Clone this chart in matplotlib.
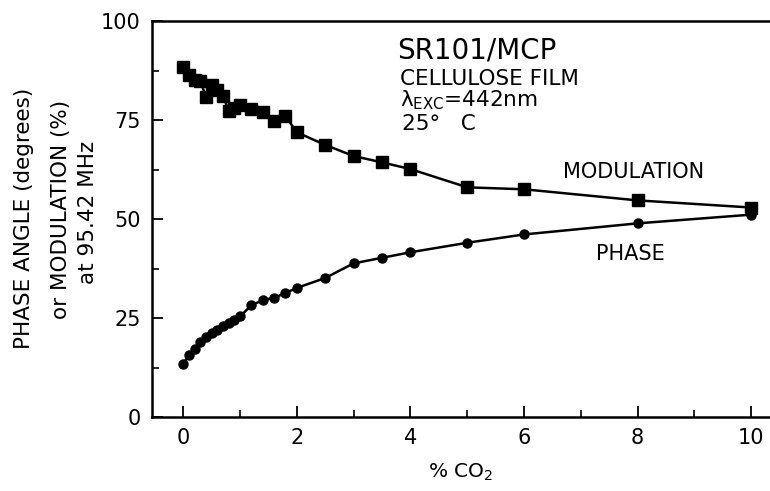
import matplotlib
matplotlib.use("Agg")
import matplotlib.pyplot as plt
from matplotlib.ticker import MultipleLocator

plt.rcParams['font.family'] = ['DejaVu Sans']
plt.rcParams['mathtext.default'] = 'regular'

# Data (% CO2 vs modulation % and phase angle degrees)
mod_x = [0.0, 0.1, 0.2, 0.3, 0.4, 0.5, 0.6, 0.7, 0.8, 0.9, 1.0, 1.2, 1.4, 1.6, 1.8,
         2.0, 2.5, 3.0, 3.5, 4.0, 5.0, 6.0, 8.0, 10.0]
mod_y = [88.5, 86.3, 85.1, 84.9, 80.8, 83.8, 82.5, 81.1, 77.3, 78.1, 78.7, 77.8, 77.0,
         74.8, 76.0, 71.9, 68.7, 65.9, 64.3, 62.6, 58.0, 57.5, 54.7, 52.9]

ph_x = [0.0, 0.1, 0.2, 0.3, 0.4, 0.5, 0.6, 0.7, 0.8, 0.9, 1.0, 1.2, 1.4, 1.6, 1.8,
        2.0, 2.5, 3.0, 3.5, 4.0, 5.0, 6.0, 8.0, 10.0]
ph_y = [13.3, 15.6, 17.2, 19.0, 20.2, 21.1, 22.0, 22.9, 23.8, 24.6, 25.4, 28.2, 29.5,
        30.1, 31.3, 32.6, 35.1, 38.8, 40.2, 41.6, 44.0, 46.1, 48.9, 51.1]

xticks = [0, 2, 4, 6, 8, 10]
yticks = [0, 25, 50, 75, 100]

fig = plt.figure(figsize=(7.7, 4.91), dpi=100)
ax = fig.add_axes([152/770, 1-417/491, 1-152/770, (417-21)/491])

ax.plot(mod_x, mod_y, color='black', lw=1.8, marker='s', ms=8, mfc='black', mec='black')
ax.plot(ph_x, ph_y, color='black', lw=1.8, marker='o', ms=6.5, mfc='black', mec='black')

ax.set_xlim(-0.55, 10.33)
ax.set_ylim(0, 100)
ax.set_xticks(xticks)
ax.set_yticks(yticks)
ax.xaxis.set_minor_locator(MultipleLocator(1))
ax.yaxis.set_minor_locator(MultipleLocator(12.5))
ax.tick_params(axis='both', which='major', direction='in', length=8, width=1.3,
               labelsize=15, top=False, right=False)
ax.tick_params(axis='both', which='minor', direction='in', length=5, width=1.2,
               top=False, right=False)
ax.tick_params(axis='x', pad=8)
ax.tick_params(axis='y', pad=8)
for s in ['left', 'bottom', 'top']:
    ax.spines[s].set_linewidth(1.8)
ax.spines['right'].set_visible(False)

ax.set_xlabel('% CO$_2$', fontsize=14.5, labelpad=10)

fig.text(24/770, 1-218/491, 'PHASE ANGLE (degrees)', rotation=90, ha='center', va='center', fontsize=15.5)
fig.text(61/770, 1-209/491, 'or MODULATION (%)', rotation=90, ha='center', va='center', fontsize=15.5)
fig.text(88/770, 1-212/491, 'at 95.42 MHz', rotation=90, ha='center', va='center', fontsize=15.5)

ax.text(397/770, 1-50/491, 'SR101/MCP', transform=fig.transFigure, fontsize=20, ha='left', va='center')
ax.text(400/770, 1-79/491, 'CELLULOSE FILM', transform=fig.transFigure, fontsize=15.5, ha='left', va='center')
ax.text(400/770, 1-100/491, r'$\lambda_{EXC}$=442nm', transform=fig.transFigure, fontsize=15.5, ha='left', va='center')
ax.text(402/770, 1-124/491, '25°   C', transform=fig.transFigure, fontsize=15.5, ha='left', va='center')
ax.text(634/770, 1-172/491, 'MODULATION', transform=fig.transFigure, fontsize=15, ha='center', va='center')
ax.text(630/770, 1-254/491, 'PHASE', transform=fig.transFigure, fontsize=15, ha='center', va='center')

fig.savefig('out.png', dpi=100)
